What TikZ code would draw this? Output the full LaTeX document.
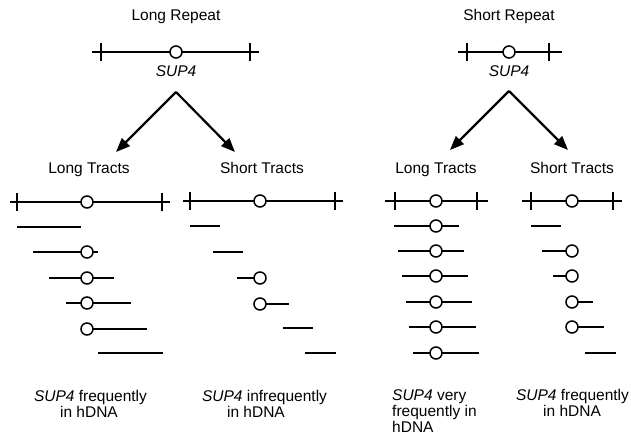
\documentclass[tikz,border=0pt]{standalone}
\usepackage{fontspec}
\setmainfont{Liberation Sans}
\usetikzlibrary{arrows.meta}

\tikzset{
  seg/.style={line width=1.7pt},
  tickmark/.style={line width=1.6pt},
  locus/.style={circle, draw, line width=1.5pt, fill=white, inner sep=0pt, minimum size=12pt},
  lbl/.style={font=\fontsize{15.5}{17}\selectfont, inner sep=0pt, anchor=base},
  gene/.style={lbl, font=\fontsize{15.5}{17}\selectfont\itshape},
  split/.style={line width=2.2pt, -{Triangle[length=14pt,width=11pt]}},
}

% a full repeat: name, y, bar left, bar right, left tick, right tick, circle x
\newcommand\fullbar[7]{%
  \draw[seg] (#3,#2) -- (#4,#2);
  \draw[tickmark] (#5,#2-9) -- (#5,#2+9);
  \draw[tickmark] (#6,#2-9) -- (#6,#2+9);
  \node[locus] (#1) at (#7,#2) {};
}
% a gene-conversion tract without the circle: y, left, right
\newcommand\bare[3]{\draw[seg] (#2,#1) -- (#3,#1);}
% a tract that carries the SUP4 circle: name, y, left, right, circle x
\newcommand\withlocus[5]{%
  \draw[seg] (#3,#2) -- (#4,#2);
  \node[locus] (#1) at (#5,#2) {};
}

\begin{document}
\begin{tikzpicture}[x=1pt,y=-1pt]
\useasboundingbox (0,0) rectangle (631,436);

% ---------- Long repeat ----------
\node[lbl] (lrTitle) at (176,21) {Long Repeat};
\fullbar{lrLocus}{52}{92}{259}{101}{250}{176}
\node[gene] (lrGene) at (176,76) {SUP4};
\coordinate (lrApex) at (176,92);
\coordinate (lrLeft) at (116,152);
\coordinate (lrRight) at (235,152);
\draw[split] (lrApex) -- (lrLeft);
\draw[split] (lrApex) -- (lrRight);
\node[lbl] (lrLongT) at (89,173) {Long Tracts};
\node[lbl] (lrShortT) at (262,173) {Short Tracts};

% long tracts
\fullbar{lalLocus}{202}{10}{170}{17}{162}{87}
\bare{227}{17}{81}
\withlocus{lal2}{252}{33}{98}{87}
\withlocus{lal3}{278}{49}{114}{87}
\withlocus{lal4}{303}{66}{131}{87}
\withlocus{lal5}{329}{87}{147}{87}
\bare{353}{98}{163}

% short tracts
\fullbar{lasLocus}{201}{183}{343}{190}{335}{260}
\bare{226}{190}{220}
\bare{252}{213}{243}
\withlocus{las3}{278}{237}{260}{260}
\withlocus{las4}{304}{260}{289}{260}
\bare{328}{283}{313}
\bare{353}{305}{336}

% ---------- Short repeat ----------
\node[lbl] (srTitle) at (509,21) {Short Repeat};
\fullbar{srLocus}{52}{458}{562}{467}{549}{509}
\node[gene] (srGene) at (509,76) {SUP4};
\coordinate (srApex) at (509,91);
\coordinate (srLeft) at (450,150);
\coordinate (srRight) at (568,150);
\draw[split] (srApex) -- (srLeft);
\draw[split] (srApex) -- (srRight);
\node[lbl] (srLongT) at (436,173) {Long Tracts};
\node[lbl] (srShortT) at (572,173) {Short Tracts};

% long tracts
\fullbar{sblLocus}{201}{385}{488}{395}{477}{436}
\withlocus{sbl1}{226}{394}{459}{436}
\withlocus{sbl2}{251}{398}{464}{436}
\withlocus{sbl3}{276}{402}{468}{436}
\withlocus{sbl4}{302}{406}{472}{436}
\withlocus{sbl5}{327}{409}{476}{436}
\withlocus{sbl6}{353}{413}{479}{436}

% short tracts
\fullbar{sbsLocus}{201}{522}{622}{531}{613}{572}
\bare{226}{531}{561}
\withlocus{sbs2}{251}{542}{572}{572}
\withlocus{sbs3}{276}{553}{578}{572}
\withlocus{sbs4}{302}{566}{593}{572}
\withlocus{sbs5}{327}{572}{604}{572}
\bare{353}{585}{616}

% ---------- outcomes ----------
\node[lbl] (out1a) at (90.5,401) {\textit{SUP4} frequently};
\node[lbl] (out1b) at (89,417) {in hDNA};
\node[lbl] (out2a) at (264.5,401) {\textit{SUP4} infrequently};
\node[lbl] (out2b) at (256,417) {in hDNA};
\node[lbl, anchor=base west] (out3a) at (392,400) {\textit{SUP4} very};
\node[lbl, anchor=base west] (out3b) at (392,416) {frequently in};
\node[lbl, anchor=base west] (out3c) at (392,432) {hDNA};
\node[lbl] (out4a) at (572.5,400) {\textit{SUP4} frequently};
\node[lbl] (out4b) at (572,416) {in hDNA};
\end{tikzpicture}
\end{document}
